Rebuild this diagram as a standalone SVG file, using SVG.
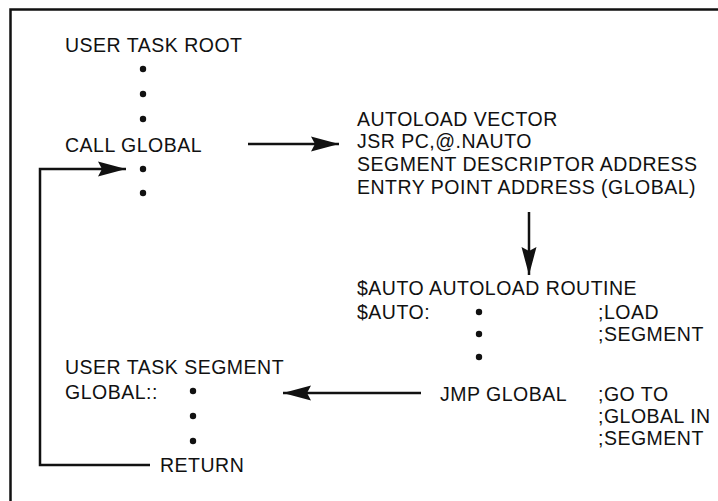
<svg xmlns="http://www.w3.org/2000/svg" width="718" height="501" viewBox="0 0 718 501">
<style>
text{font-family:"Liberation Sans",Arial,sans-serif;font-size:19.5px;letter-spacing:0.5px;fill:#111}
.ln{stroke:#111;stroke-width:2.5;fill:none}
.dot{fill:#111}
</style>
<defs>
<marker id="ah" markerUnits="userSpaceOnUse" markerWidth="29" markerHeight="16" refX="28" refY="8" orient="auto">
<path d="M0,0.5 L28,8 L0,15.5 L4,8 Z" fill="#111"/>
</marker>
</defs>
<rect width="718" height="501" fill="#fff"/>
<g id="frame">
<path class="ln" d="M10.5,501 V9.5 H718" stroke-width="3"/>
</g>
<g id="root">
<text x="65" y="52">USER TASK ROOT</text>
<circle class="dot" cx="143" cy="69" r="3.2"/>
<circle class="dot" cx="143" cy="94" r="3.2"/>
<circle class="dot" cx="143" cy="119" r="3.2"/>
<text x="65" y="152">CALL GLOBAL</text>
<circle class="dot" cx="143" cy="169" r="3.2"/>
<circle class="dot" cx="143" cy="193" r="3.2"/>
</g>
<g id="vector">
<text x="357" y="126">AUTOLOAD VECTOR</text>
<text x="357" y="148">JSR PC,@.NAUTO</text>
<text x="357" y="171">SEGMENT DESCRIPTOR ADDRESS</text>
<text x="357" y="194">ENTRY POINT ADDRESS (GLOBAL)</text>
</g>
<g id="auto">
<text x="357" y="295">$AUTO AUTOLOAD ROUTINE</text>
<text x="357" y="319">$AUTO:</text>
<circle class="dot" cx="479" cy="312" r="3.2"/>
<circle class="dot" cx="479" cy="334" r="3.2"/>
<circle class="dot" cx="479" cy="357" r="3.2"/>
<text x="598" y="319">;LOAD</text>
<text x="598" y="341">;SEGMENT</text>
<text x="440" y="401">JMP GLOBAL</text>
<text x="598" y="401">;GO TO</text>
<text x="598" y="423">;GLOBAL IN</text>
<text x="598" y="445">;SEGMENT</text>
</g>
<g id="segment">
<text x="65" y="374">USER TASK SEGMENT</text>
<text x="65" y="399">GLOBAL::</text>
<circle class="dot" cx="193" cy="391" r="3.2"/>
<circle class="dot" cx="193" cy="416" r="3.2"/>
<circle class="dot" cx="193" cy="441" r="3.2"/>
<text x="160" y="472">RETURN</text>
</g>
<g id="connectors">
<path class="ln" d="M248,144 H339" marker-end="url(#ah)"/>
<path class="ln" d="M529,212 V275" marker-end="url(#ah)"/>
<path class="ln" d="M421,393 H283" marker-end="url(#ah)"/>
<path class="ln" d="M150,465 H40 V169 H126" marker-end="url(#ah)"/>
</g>
</svg>
